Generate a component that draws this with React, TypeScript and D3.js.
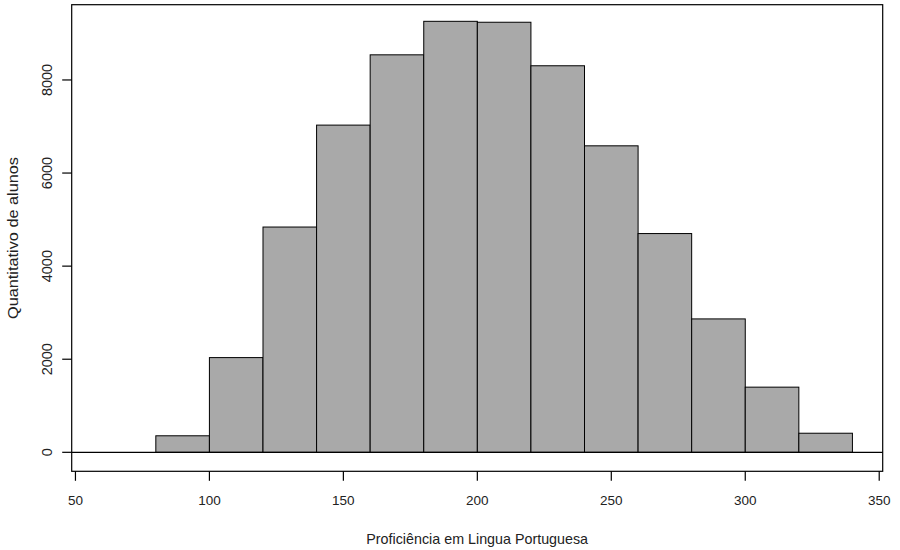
import React from "react";
import * as d3 from "d3";

// Histogram bins (score ranges) and student counts per bin
const binEdges = [80, 100, 120, 140, 160, 180, 200, 220, 240, 260, 280, 300, 320, 340];
const counts = [355, 2035, 4840, 7030, 8540, 9260, 9240, 8305, 6585, 4700, 2866, 1400, 410];
const xTicks = [50, 100, 150, 200, 250, 300, 350];
const yTicks = [0, 2000, 4000, 6000, 8000];
const xTitle = "Proficiência em Lingua Portuguesa";
const yTitle = "Quantitativo de alunos";

const W = 900;
const H = 550;
const plot = { left: 71.7, right: 882.7, top: 4.7, bottom: 471.3 };
const font = "'Liberation Sans', Arial, sans-serif";

export default function App() {
  const x = d3.scaleLinear().domain([48.6, 351.3]).range([plot.left, plot.right]);
  const y = d3.scaleLinear().domain([-408, 9617]).range([plot.bottom, plot.top]);

  const bars = counts.map((c, i) => ({ x0: binEdges[i], x1: binEdges[i + 1], c }));
  const midY = (plot.top + plot.bottom) / 2;

  return (
    <svg
      width={W}
      height={H}
      style={{ position: "absolute", left: 0, top: 0, background: "#fff" }}
      fontFamily={font}
    >
      <rect x={0} y={0} width={W} height={H} fill="#fff" />
      {/* bars */}
      {bars.map((b, i) => (
        <rect
          key={i}
          x={x(b.x0)}
          y={y(b.c)}
          width={x(b.x1) - x(b.x0)}
          height={y(0) - y(b.c)}
          fill="#a9a9a9"
          stroke="#000"
          strokeWidth={1}
        />
      ))}
      {/* zero reference line */}
      <line x1={plot.left} x2={plot.right} y1={y(0)} y2={y(0)} stroke="#000" strokeWidth={1.2} />
      {/* plot frame */}
      <rect
        x={plot.left}
        y={plot.top}
        width={plot.right - plot.left}
        height={plot.bottom - plot.top}
        fill="none"
        stroke="#000"
        strokeWidth={1.2}
      />
      {/* x axis */}
      {xTicks.map((t) => (
        <g key={t}>
          <line x1={x(t)} x2={x(t)} y1={plot.bottom} y2={plot.bottom + 9.5} stroke="#000" strokeWidth={1.2} />
          <text x={x(t)} y={plot.bottom + 34} textAnchor="middle" fontSize={13.5} fill="#222">
            {t}
          </text>
        </g>
      ))}
      {/* y axis */}
      {yTicks.map((t) => (
        <g key={t}>
          <line x1={plot.left - 9.5} x2={plot.left} y1={y(t)} y2={y(t)} stroke="#000" strokeWidth={1.2} />
          <text
            transform={`translate(${plot.left - 20},${y(t)}) rotate(-90)`}
            textAnchor="middle"
            fontSize={14.5}
            fill="#222"
          >
            {t}
          </text>
        </g>
      ))}
      {/* axis titles */}
      <text x={(plot.left + plot.right) / 2} y={544} textAnchor="middle" fontSize={14.3} fill="#222">
        {xTitle}
      </text>
      <text
        transform={`translate(17.5,${midY}) rotate(-90)`}
        textAnchor="middle"
        fontSize={14}
        textLength={162}
        lengthAdjust="spacingAndGlyphs"
        fill="#222"
      >
        {yTitle}
      </text>
    </svg>
  );
}
